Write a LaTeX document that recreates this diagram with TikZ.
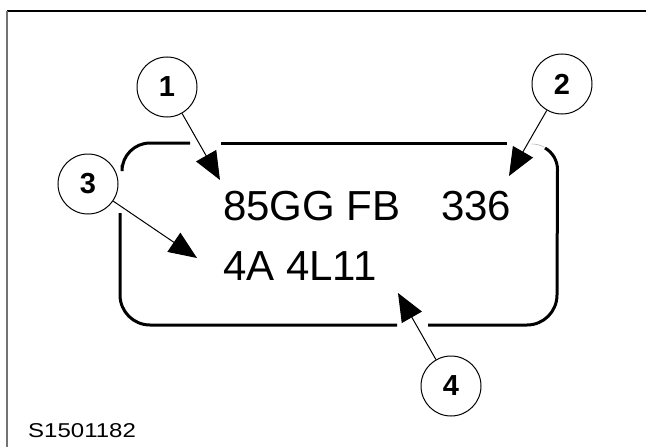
\documentclass[tikz,border=0pt]{standalone}
\usepackage{fontspec}
\setmainfont{Liberation Sans}
\usetikzlibrary{arrows.meta}
\tikzset{
  callout/.style={circle,draw,line width=1pt,minimum size=60pt,inner sep=0pt,font=\fontsize{29}{29}\selectfont\bfseries},
  arr/.style={line width=1pt,-{Triangle[length=28pt,width=23pt]}},
  plate/.style={line width=3pt},
  bigtext/.style={anchor=base west,inner sep=0pt,font=\fontsize{42}{42}\selectfont},
}
\begin{document}
\begin{tikzpicture}[x=1pt,y=-1pt]
\useasboundingbox (0,0) rectangle (646,447);
% frame
\draw[line width=1.5pt] (7,11) -- (646,11);
\draw[line width=2pt,color=black!55] (7,11) -- (7,447);
% plate outline with gaps
\draw[plate] (190,143) -- (150,143) arc[start angle=-90,end angle=-180,radius=28] -- (122,165);
\draw[plate] (221,143) -- (507,143);
\draw[plate] (545,148) arc[start angle=-60,end angle=0,radius=25] -- (557,295) arc[start angle=0,end angle=90,radius=30] -- (428,325);
\draw[plate] (397,325) -- (150,325) arc[start angle=90,end angle=180,radius=30] -- (120,213);
\draw[line width=0.6pt,color=black!30] (532,144) arc[start angle=-90,end angle=-60,radius=25];
% texts
\node[bigtext] (l1) at (223,220) {85GG FB};
\node[bigtext] (l2) at (441,220) {336};
\node[bigtext] (l3) at (223,280) {4A 4L11};
\node[anchor=base west,inner sep=0pt,font=\fontsize{20}{20}\selectfont,xscale=1.2] (code) at (28,437) {S1501182};
% callouts
\node[callout] (c1) at (167,87) {1};
\node[callout] (c2) at (562,84) {2};
\node[callout] (c3) at (88,184) {3};
\node[callout] (c4) at (451,386) {4};
\coordinate (t1) at (220,180);
\coordinate (t2) at (509,176);
\coordinate (t3) at (197,258);
\coordinate (t4) at (398,293);
\draw[arr] (c1) -- (t1);
\draw[arr] (c2) -- (t2);
\draw[arr] (c3) -- (t3);
\draw[arr] (c4) -- (t4);
\end{tikzpicture}
\end{document}
